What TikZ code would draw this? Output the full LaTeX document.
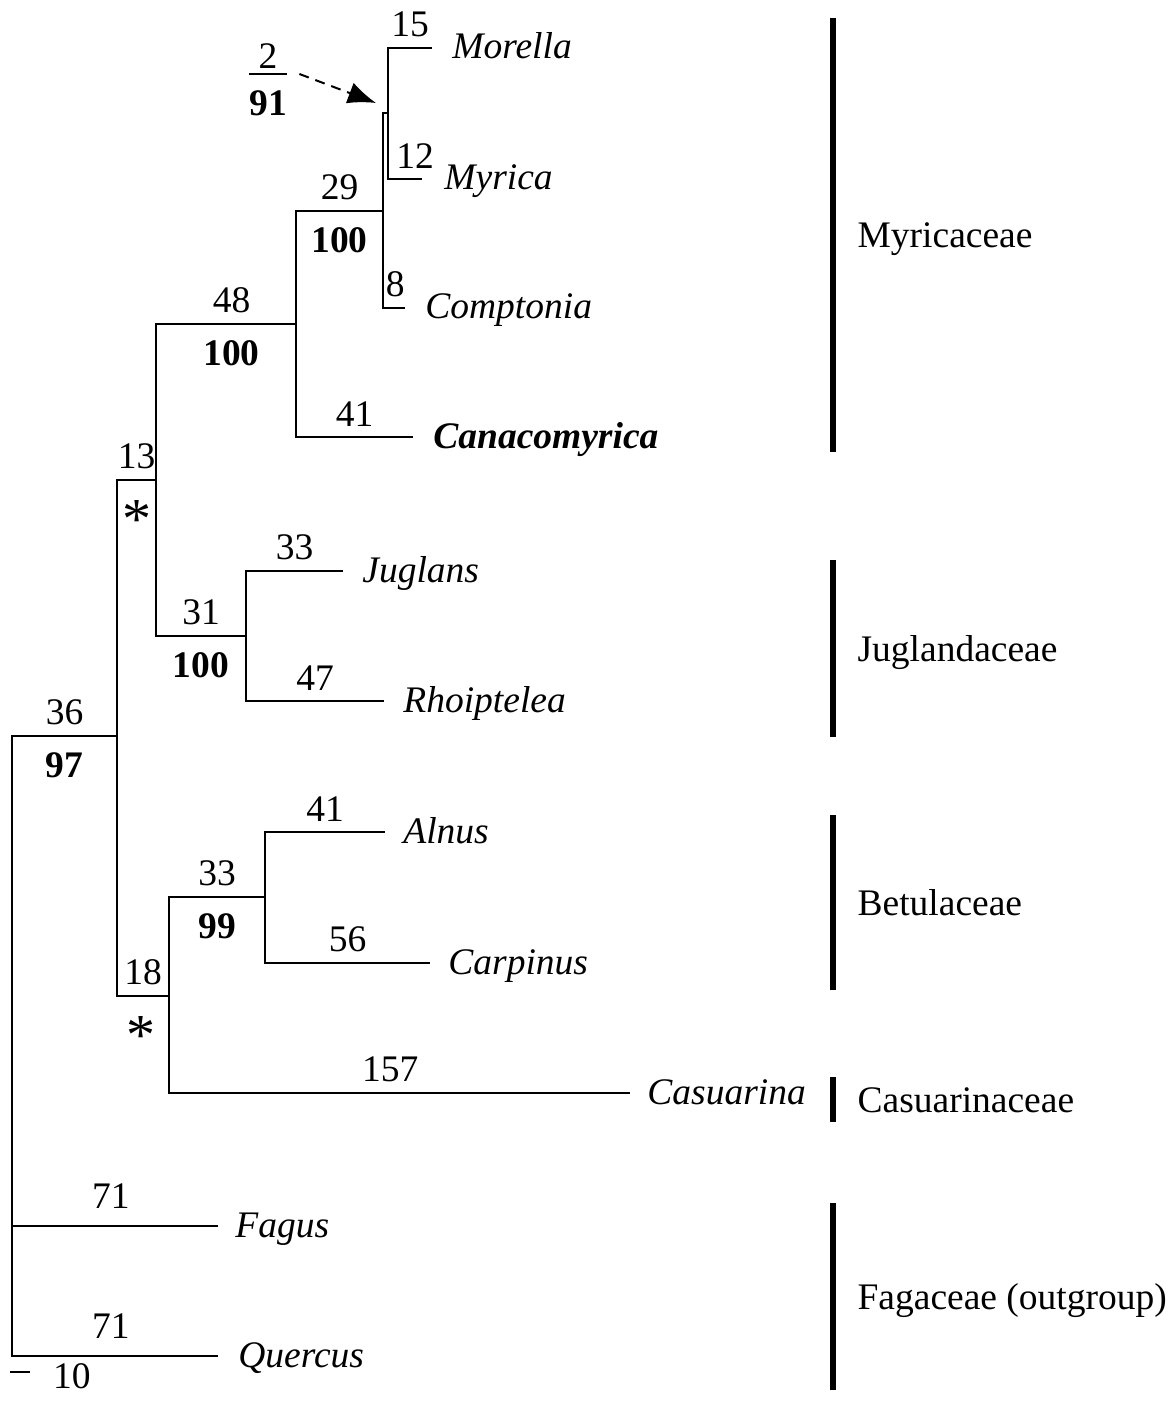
\documentclass[tikz,border=0pt]{standalone}
\usepackage{fontspec}
\setmainfont{Liberation Serif}
\usetikzlibrary{positioning, arrows.meta}
\newcommand\figfont{\fontsize{18.75}{22}\selectfont}
\tikzset{
  branch/.style  = {draw, line width=1pt},
  brlen/.style   = {above=1.5pt, pos=0.75},
  boot/.style    = {below=4.5pt, pos=0.75, font={\figfont\bfseries}},
  star/.style    = {pos=0.75, yshift=-20pt, inner sep=0, font=\fontsize{29}{31}\selectfont},
  taxon/.style   = {inner sep=0, font={\figfont\itshape}, text height=1.1em, text depth=0pt},
  taxonb/.style  = {taxon, font={\figfont\bfseries\itshape}},
  famline/.style = {draw, line width=2.6pt},
  family/.style  = {midway, right=11pt, inner sep=0, text height=1.3em, text depth=0pt},
  pointer/.style = {draw, line width=1pt, dash pattern=on 5pt off 3.5pt,
                    -{Latex[length=14pt, width=11pt]}}
}
\begin{document}
\begin{tikzpicture}
  [
  x = 0.5pt, y = -0.5pt,
  every node/.style = {font = \figfont}
  ]
  \useasboundingbox (0,0) rectangle (1172,1411);

  % inner nodes
  \coordinate (root) at (12,1046);
  \coordinate (n36) at (117,736);
  \coordinate (n13) at (156,480);
  \coordinate (n48) at (296,324);
  \coordinate (n29) at (383,211);
  \coordinate (n2)  at (388,113);
  \coordinate (n31) at (246,636);
  \coordinate (n18) at (169,996);
  \coordinate (n33) at (265,897);

  % tips
  \coordinate (tmor) at (432,48);
  \coordinate (tmyr) at (422,179);
  \coordinate (tcom) at (405,308);
  \coordinate (tcan) at (413,437);
  \coordinate (tjug) at (343,571);
  \coordinate (trho) at (384,701);
  \coordinate (taln) at (385,832);
  \coordinate (tcar) at (430,963);
  \coordinate (tcas) at (630,1093);
  \coordinate (tfag) at (218,1226);
  \coordinate (tque) at (218,1356);

  \node[taxon, right=10pt of tmor] (morella) {Morella};
  \node[taxon, right=11pt of tmyr] (myrica) {Myrica};
  \node[taxon, right=10pt of tcom] (comptonia) {Comptonia};
  \node[taxonb, right=10pt of tcan] (canacomyrica) {Canacomyrica};
  \node[taxon, right=9.5pt of tjug] (juglans) {Juglans};
  \node[taxon, right=9.5pt of trho] (rhoiptelea) {Rhoiptelea};
  \node[taxon, right=9pt of taln] (alnus) {Alnus};
  \node[taxon, right=9pt of tcar] (carpinus) {Carpinus};
  \node[taxon, right=8.5pt of tcas] (casuarina) {Casuarina};
  \node[taxon, right=8.5pt of tfag] (fagus) {Fagus};
  \node[taxon, right=10pt of tque] (quercus) {Quercus};

  % branches
  \draw[branch] (root) |- node[brlen] (l36) {36} node[boot] (b36) {97} (n36);
  \draw[branch] (root) |- node[brlen, above=5pt, pos=0.74] (l71a) {71} (tfag);
  \draw[branch] (root) |- node[brlen, above=5pt, pos=0.74] (l71b) {71} (tque);
  \draw[branch] (n36) |- node[brlen] (l13) {13} node[star] (s13) {*} (n13);
  \draw[branch] (n36) |- node[brlen] (l18) {18} node[star, xshift=-1pt] (s18) {*} (n18);
  \draw[branch] (n13) |- node[brlen, pos=0.77] (l48) {48} node[boot, pos=0.77] (b48) {100} (n48);
  \draw[branch] (n13) |- node[brlen] (l31) {31} node[boot] (b31) {100} (n31);
  \draw[branch] (n48) |- node[brlen] (l29) {29} node[boot] (b29) {100} (n29);
  \draw[branch] (n48) |- node[brlen] (l41a) {41} (tcan);
  \draw[branch] (n29) |- (n2);
  \draw[branch] (n29) |- node[brlen, pos=0.78] (l8) {8} (tcom);
  \draw[branch] (n2) |- node[brlen] (l15) {15} (tmor);
  \draw[branch] (n2) |- node[brlen, pos=0.9] (l12) {12} (tmyr);
  \draw[branch] (n31) |- node[brlen] (l33a) {33} (tjug);
  \draw[branch] (n31) |- node[brlen] (l47) {47} (trho);
  \draw[branch] (n18) |- node[brlen] (l33b) {33} node[boot] (b33) {99} (n33);
  \draw[branch] (n18) |- node[brlen, pos=0.74] (l157) {157} (tcas);
  \draw[branch] (n33) |- node[brlen] (l41b) {41} (taln);
  \draw[branch] (n33) |- node[brlen] (l56) {56} (tcar);

  % support of the short branch
  \node[inner sep=0] (fbar) at (268,74) {\rule{19pt}{1pt}};
  \node[inner sep=0, above=2pt of fbar] (fnum) {2};
  \node[inner sep=0, below=7.5pt of fbar, font={\figfont\bfseries}] (fden) {91};
  \draw[pointer] ([xshift=6pt]fbar.east) -- ([xshift=-6pt, yshift=5pt]n2);

  % families
  \draw[famline] (833,18) -- (833,452) node[family] (fmyr) {Myricaceae};
  \draw[famline] (833,560) -- (833,737) node[family] (fjug) {Juglandaceae};
  \draw[famline] (833,815) -- (833,990) node[family] (fbet) {Betulaceae};
  \draw[famline] (833,1077) -- (833,1122) node[family] (fcas) {Casuarinaceae};
  \draw[famline] (833,1203) -- (833,1390) node[family] (ffag) {Fagaceae (outgroup)};

  % scale
  \coordinate (sb0) at (10,1372);
  \coordinate (sb1) at (30,1372);
  \draw[branch] (sb0) -- (sb1) node[right=11pt, inner sep=0, yshift=-2pt] (sbl) {10};
\end{tikzpicture}
\end{document}
